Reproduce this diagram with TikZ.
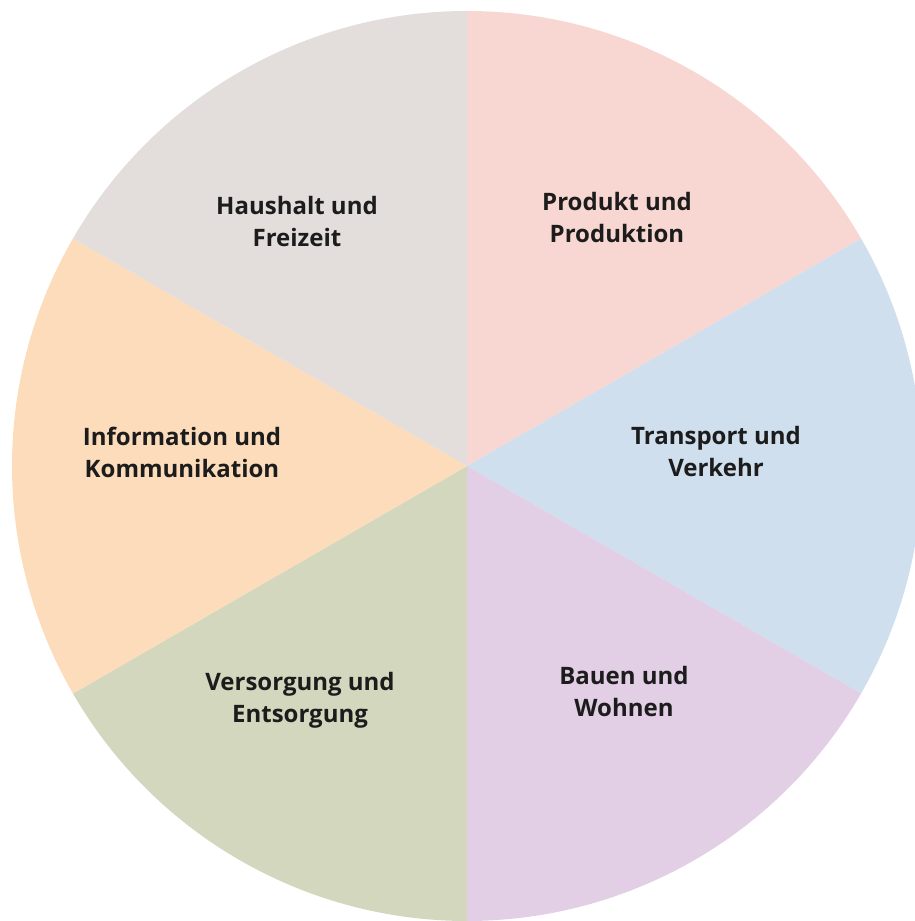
\documentclass[tikz,border=0pt]{standalone}
\usepackage{fontspec}
\setmainfont{Open Sans}
\definecolor{cpink}{HTML}{F8D7D2}
\definecolor{cblue}{HTML}{D0DFED}
\definecolor{cpurple}{HTML}{E2CEE5}
\definecolor{cgreen}{HTML}{D3D7BD}
\definecolor{corange}{HTML}{FCDCBA}
\definecolor{cgray}{HTML}{E3DEDC}
\definecolor{ctext}{HTML}{1C1C1C}
\begin{document}
\begin{tikzpicture}[x=1pt,y=1pt,
  lbl/.style={align=center,text=ctext,font=\fontsize{24}{32}\selectfont\bfseries}]
\useasboundingbox (0,0) rectangle (915,921);
\clip (0,0) rectangle (915,921);
\coordinate (c) at (467,455);
\def\R{455}
\fill[cpink]   (c) -- ++(30:\R)  arc[start angle=30,end angle=90,radius=\R] -- cycle;
\fill[cblue]   (c) -- ++(-30:\R) arc[start angle=-30,end angle=30,radius=\R] -- cycle;
\fill[cpurple] (c) -- ++(-90:\R) arc[start angle=-90,end angle=-30,radius=\R] -- cycle;
\fill[cgreen]  (c) -- ++(210:\R) arc[start angle=210,end angle=270,radius=\R] -- cycle;
\fill[corange] (c) -- ++(150:\R) arc[start angle=150,end angle=210,radius=\R] -- cycle;
\fill[cgray]   (c) -- ++(90:\R)  arc[start angle=90,end angle=150,radius=\R] -- cycle;
\node[lbl] (haushalt) at (297,699) {Haushalt und\\Freizeit};
\node[lbl] (produkt) at (617,703) {Produkt und\\Produktion};
\node[lbl] (transport) at (716,469) {Transport und\\Verkehr};
\node[lbl] (bauen) at (624,229) {Bauen und\\Wohnen};
\node[lbl] (versorgung) at (300,221) {Versorgung und\\Entsorgung};
\node[lbl] (information) at (182,469) {Information und\\Kommunikation};
\end{tikzpicture}
\end{document}
